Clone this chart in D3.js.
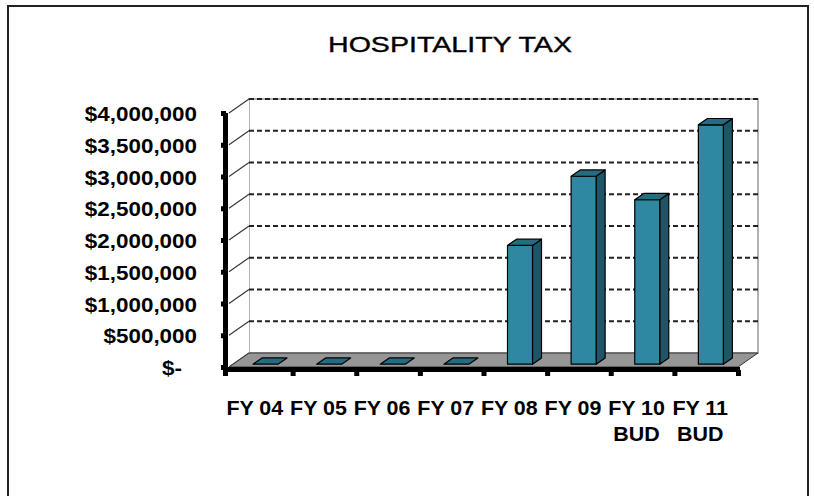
<!DOCTYPE html>
<html>
<head>
<meta charset="utf-8">
<script src="https://cdn.jsdelivr.net/npm/d3@7/dist/d3.min.js"></script>
<style>
  html, body { margin: 0; padding: 0; background: #fff; }
  svg { display: block; }
  text { font-family: Arial, "Liberation Sans", sans-serif; fill: #000; }
</style>
</head>
<body>
<svg id="chart" width="814" height="496"></svg>
<script>
const title = "HOSPITALITY TAX";
const categories = ["FY 04", "FY 05", "FY 06", "FY 07", "FY 08", "FY 09", "FY 10 BUD", "FY 11 BUD"];
const categoryLines = [["FY 04"], ["FY 05"], ["FY 06"], ["FY 07"], ["FY 08"], ["FY 09"], ["FY 10", "BUD"], ["FY 11", "BUD"]];
const values = [0, 0, 0, 0, 1870000, 2960000, 2590000, 3770000];
const tickValues = [0, 500000, 1000000, 1500000, 2000000, 2500000, 3000000, 3500000, 4000000];
const tickLabels = ["$-", "$500,000", "$1,000,000", "$1,500,000", "$2,000,000", "$2,500,000", "$3,000,000", "$3,500,000", "$4,000,000"];

const svg = d3.select("#chart");

// outer frame
svg.append("rect").attr("x", 8).attr("y", 6).attr("width", 800).attr("height", 500)
  .attr("fill", "none").attr("stroke", "#222").attr("stroke-width", 2);

// geometry
const left = 229, right = 738, yZero = 367, yMax = 113;
const depth = { dx: 20, dy: -14 };
const x = d3.scaleBand().domain(categories).range([left, right]);
const y = d3.scaleLinear().domain([0, 4000000]).range([yZero, yMax]);

const g = svg.append("g");

// back wall
g.append("rect")
  .attr("x", left + depth.dx).attr("y", y(4000000) + depth.dy)
  .attr("width", right - left).attr("height", y(0) - y(4000000))
  .attr("fill", "#fff").attr("stroke", "#9a9a9a").attr("stroke-width", 1.5);

// left side wall
g.append("path")
  .attr("d", `M${left},${y(4000000)}L${left + depth.dx},${y(4000000) + depth.dy}L${left + depth.dx},${y(0) + depth.dy}L${left},${y(0)}Z`)
  .attr("fill", "#fff").attr("stroke", "none");

// gridlines on back wall (dashed) and side wall (solid)
tickValues.forEach(v => {
  if (v > 0) {
    g.append("line")
      .attr("x1", left + depth.dx).attr("x2", right + depth.dx)
      .attr("y1", y(v) + depth.dy).attr("y2", y(v) + depth.dy)
      .attr("stroke", "#222").attr("stroke-width", 1.8).attr("stroke-dasharray", "5,3");
  }
  g.append("line")
    .attr("x1", left).attr("x2", left + depth.dx)
    .attr("y1", y(v)).attr("y2", y(v) + depth.dy)
    .attr("stroke", "#333").attr("stroke-width", 1.1);
});

// floor
g.append("path")
  .attr("d", `M${left},${y(0)}L${left + depth.dx},${y(0) + depth.dy}L${right + depth.dx},${y(0) + depth.dy}L${right},${y(0)}Z`)
  .attr("fill", "#969696").attr("stroke", "#333").attr("stroke-width", 1);

// bars
const f0 = 0.2, f1 = 0.65;
const barW = 25, barOff = 20;
const cFront = "#2f88a2", cSide = "#1e5667", cTop = "#256c80";
categories.forEach((c, i) => {
  const v = values[i];
  const x0 = x(c) + barOff + depth.dx * f0;
  const x1 = x0 + barW;
  const yb = y(0) + depth.dy * f0;
  const yt = y(v) + depth.dy * f0;
  const ddx = depth.dx * (f1 - f0), ddy = depth.dy * (f1 - f0);
  const bg = g.append("g").attr("stroke", "#000").attr("stroke-width", 1.2).attr("stroke-linejoin", "round");
  if (v > 0) {
    bg.append("path").attr("d", `M${x1},${yt}L${x1 + ddx},${yt + ddy}L${x1 + ddx},${yb + ddy}L${x1},${yb}Z`).attr("fill", cSide);
    bg.append("path").attr("d", `M${x0},${yt}L${x1},${yt}L${x1},${yb}L${x0},${yb}Z`).attr("fill", cFront);
  }
  bg.append("path").attr("d", `M${x0},${yt}L${x0 + ddx},${yt + ddy}L${x1 + ddx},${yt + ddy}L${x1},${yt}Z`).attr("fill", cTop);
});

// axes (thick black)
const ax = svg.append("g").attr("fill", "#000");
ax.append("rect").attr("x", left - 6).attr("y", y(0)).attr("width", right - left + 8).attr("height", 5);
categories.forEach((c) => {
  ax.append("rect").attr("x", x(c) + x.bandwidth() - 2).attr("y", y(0) + 3).attr("width", 5).attr("height", 6);
});
ax.append("rect").attr("x", left - 6).attr("y", y(0) + 3).attr("width", 5).attr("height", 6);
ax.append("rect").attr("x", left - 6).attr("y", y(4000000)).attr("width", 5).attr("height", y(0) - y(4000000) + 5);
tickValues.forEach(v => {
  ax.append("rect").attr("x", left - 8).attr("y", y(v) - 2).attr("width", 5).attr("height", 5);
});

// title
svg.append("text")
  .attr("x", 450).attr("y", 52)
  .attr("text-anchor", "middle")
  .attr("font-size", 21.5)
  .attr("stroke", "#000").attr("stroke-width", 0.35)
  .attr("textLength", 244).attr("lengthAdjust", "spacingAndGlyphs")
  .text(title);

// y labels
tickValues.forEach((v, i) => {
  const lab = tickLabels[i];
  const xr = v === 0 ? 182 : 197;
  svg.append("text")
    .attr("transform", `translate(${xr},${y(v) + 1}) scale(1.15,1)`)
    .attr("text-anchor", "end")
    .attr("dy", "0.36em")
    .attr("font-size", 19.5)
    .attr("font-weight", "bold")
    .text(lab);
});

// x labels
categories.forEach((c, i) => {
  const cx = x(c) + x.bandwidth() / 2 - 6;
  categoryLines[i].forEach((ln, j) => {
    svg.append("text")
      .attr("transform", `translate(${cx},${408 + j * 26}) scale(1.1,1)`)
      .attr("text-anchor", "middle")
      .attr("dy", "0.36em")
      .attr("font-size", 19.5)
      .attr("font-weight", "bold")
      .text(ln);
  });
});
</script>
</body>
</html>
